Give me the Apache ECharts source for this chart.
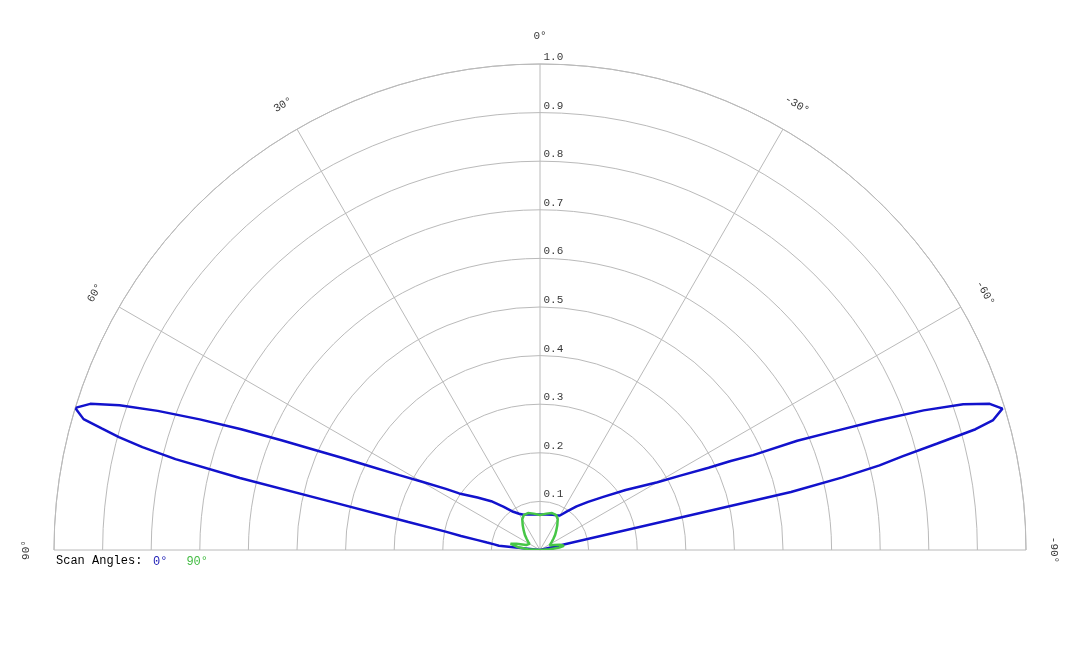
<!DOCTYPE html>
<html>
<head>
<meta charset="utf-8">
<title>Scan pattern</title>
<script src="https://cdn.jsdelivr.net/npm/echarts@6/dist/echarts.min.js"></script>
<style>
html, body { margin: 0; padding: 0; background: #ffffff; }
#pattern_chart { width: 1080px; height: 648px; }
</style>
</head>
<body>
<div id="pattern_chart"></div>
<script>
// tick labels
var radiusTicks = [0.1, 0.2, 0.3, 0.4, 0.5, 0.6, 0.7, 0.8, 0.9, 1.0];
var angleTicks = [-90, -60, -30, 0, 30, 60, 90];
var seriesNames = ['0°', '90°'];

// scan angle 0° (blue), angle in degrees / normalized value
var scan0Angles = [-90, -78, -77, -76.5, -76, -75.5, -75, -74.5, -74, -73, -72, -71, -70, -69, -68, -67, -66, -65, -64, -62, -60, -55, -50, -45, -40, -35, -30, -25, -20, -10,
    0, 10, 20, 25, 30, 35, 40, 45, 50, 55, 57, 60, 62, 64, 65, 66, 67, 68, 69, 70, 71, 72, 73, 74, 74.5, 75, 75.5, 76, 76.5, 77, 78, 79, 80, 81, 82, 83, 84, 90];
var scan0Values = [0, 0, 0.53, 0.64, 0.72, 0.77, 0.845, 0.93, 0.97, 0.995, 0.973, 0.921, 0.84, 0.744, 0.65, 0.575, 0.48, 0.433, 0.386, 0.325, 0.279, 0.215, 0.17, 0.14, 0.117, 0.097, 0.082, 0.079, 0.077, 0.074,
    0.073, 0.074, 0.078, 0.08, 0.086, 0.096, 0.116, 0.142, 0.168, 0.203, 0.231, 0.282, 0.328, 0.399, 0.448, 0.505, 0.578, 0.663, 0.75, 0.837, 0.915, 0.973, 1.0, 0.977, 0.936, 0.897, 0.845, 0.773, 0.635, 0.44, 0.277, 0.198, 0.165, 0.13, 0.11, 0.095, 0.085, 0];

// scan angle 90° (green)
var scan90Angles = [-90, -86, -83, -80, -78, -75, -70, -65, -60, -55, -50, -45, -40, -35, -30, -25, -18, -10,
    0, 10, 18, 25, 30, 35, 40, 45, 50, 55, 60, 65, 70, 75, 78, 80, 83, 86, 90];
var scan90Values = [0, 0.02, 0.04, 0.05, 0.05, 0.042, 0.03, 0.022, 0.024, 0.03, 0.036, 0.044, 0.052, 0.062, 0.073, 0.079, 0.08, 0.076,
    0.072, 0.076, 0.08, 0.079, 0.073, 0.062, 0.052, 0.044, 0.036, 0.03, 0.025, 0.022, 0.03, 0.05, 0.062, 0.06, 0.045, 0.025, 0];

var monoFont = 'Liberation Mono';
var textColor = '#000000';
var gridColor = '#bababa';
var blue = '#1212cc';
var green = '#46c646';

var toPairs = function (angles, values) {
    return angles.map(function (a, i) {
        return [values[i], a];
    });
};

var hiddenAngleAxis = function (idx) {
    return {
        "polarIndex": idx,
        "type": "value",
        "min": -90,
        "max": 90,
        "interval": 30,
        "startAngle": 0,
        "endAngle": 180,
        "clockwise": false,
        "show": false
    };
};

option = {
    "backgroundColor": '#FFFFFF',
    "animation": false,
    "title": {
        "text": "Scan Angles:",
        "left": 51,
        "top": 550,
        "textStyle": {
            "fontFamily": monoFont,
            "fontSize": 12,
            "fontWeight": "normal",
            "color": textColor
        }
    },
    "legend": {
        "left": 143,
        "top": 550,
        "icon": "none",
        "itemWidth": 0,
        "itemGap": 14,
        "selectedMode": false,
        "textStyle": {
            "fontFamily": monoFont,
            "fontSize": 12
        },
        "data": [
            { "name": seriesNames[0], "textStyle": { "color": "#2424b8" } },
            { "name": seriesNames[1], "textStyle": { "color": "#44bc44" } }
        ]
    },
    "polar": [{
        "center": [540, 550],
        "radius": 486
    }, {
        // ring just outside the plot, only used to hold the angle labels
        "center": [540, 550],
        "radius": 514
    }],
    "angleAxis": [{
        "polarIndex": 0,
        "type": "value",
        "min": -90,
        "max": 90,
        "interval": 30,
        "startAngle": 0,
        "endAngle": 180,
        "clockwise": false,
        "axisLine": { "show": true, "lineStyle": { "color": gridColor, "width": 1 } },
        "axisTick": { "show": false },
        "axisLabel": { "show": false },
        "splitLine": { "show": true, "lineStyle": { "color": gridColor, "width": 1 } }
    }, hiddenAngleAxis(1)],
    "radiusAxis": [{
        "polarIndex": 0,
        "type": "value",
        "min": 0,
        "max": 1,
        "interval": 0.1,
        "axisLine": { "show": false },
        "axisTick": { "show": false },
        "axisLabel": { "show": false },
        "splitLine": { "show": true, "lineStyle": { "color": gridColor, "width": 1 } }
    }, {
        "polarIndex": 1,
        "type": "value",
        "min": 0,
        "max": 1,
        "show": false
    }],
    "series": [{
        "name": seriesNames[0],
        "type": "line",
        "coordinateSystem": "polar",
        "polarIndex": 0,
        "data": toPairs(scan0Angles, scan0Values),
        "showSymbol": false,
        "clip": false,
        "color": blue,
        "lineStyle": { "color": blue, "width": 2.5 }
    }, {
        "name": seriesNames[1],
        "type": "line",
        "coordinateSystem": "polar",
        "polarIndex": 0,
        "data": toPairs(scan90Angles, scan90Values),
        "showSymbol": false,
        "clip": false,
        "color": green,
        "lineStyle": { "color": green, "width": 2.5 }
    }, {
        // radius tick labels along the 0° line
        "type": "scatter",
        "coordinateSystem": "polar",
        "polarIndex": 0,
        "silent": true,
        "symbolSize": 1,
        "itemStyle": { "color": "rgba(0,0,0,0)" },
        "data": radiusTicks.map(function (v) { return [v, 0]; }),
        "label": {
            "show": true,
            "position": "right",
            "distance": 3,
            "offset": [0, -7],
            "fontFamily": monoFont,
            "fontSize": 11,
            "color": textColor,
            "formatter": function (p) { return p.value[0].toFixed(1); }
        }
    }, {
        // angle tick labels on the outer label ring
        "type": "scatter",
        "coordinateSystem": "polar",
        "polarIndex": 1,
        "silent": true,
        "symbolSize": 1,
        "itemStyle": { "color": "rgba(0,0,0,0)" },
        "data": angleTicks.map(function (a) {
            return { "value": [1, a], "label": { "rotate": a } };
        }),
        "label": {
            "show": true,
            "position": "inside",
            "fontFamily": monoFont,
            "fontSize": 11,
            "color": textColor,
            "formatter": function (p) { return p.value[1] + '°'; }
        }
    }]
};
myChart = echarts.init(document.getElementById('pattern_chart'));
myChart.setOption(option);
</script>
</body>
</html>
